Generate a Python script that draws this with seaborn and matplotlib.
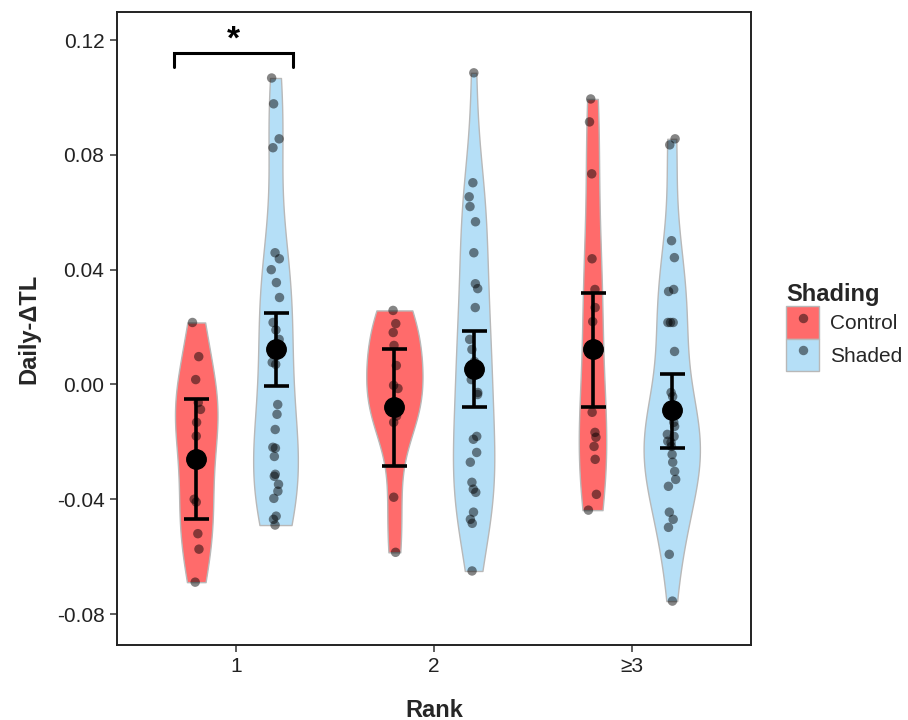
import numpy as np
import pandas as pd
import matplotlib
matplotlib.use("Agg")
import matplotlib.pyplot as plt
from matplotlib.patches import Patch
from matplotlib.lines import Line2D
import seaborn as sns

# ---------------- data ----------------
rank_labels = ["1", "2", "\u22653"]
shading_levels = ["Control", "Shaded"]

control_r1 = [0.0216, 0.0097, 0.0017, -0.0063, -0.0087, -0.0132, -0.0180,
              -0.0270, -0.0400, -0.0410, -0.0520, -0.0574, -0.0689]
shaded_r1 = [0.1068, 0.0978, 0.0856, 0.0825, 0.0459, 0.0438, 0.0400, 0.0355,
             0.0303, 0.0216, 0.0190, 0.0157, 0.0077, 0.0070, -0.0070, -0.0104,
             -0.0157, -0.0219, -0.0222, -0.0251, -0.0313, -0.0320, -0.0348,
             -0.0372, -0.0397, -0.0459, -0.0470, -0.0490]
control_r2 = [0.0258, 0.0212, 0.0181, 0.0136, 0.0066, -0.0003, -0.0014,
              -0.0090, -0.0110, -0.0132, -0.0393, -0.0585]
shaded_r2 = [0.1086, 0.0703, 0.0654, 0.0620, 0.0567, 0.0459, 0.0351, 0.0334,
             0.0268, 0.0157, 0.0122, 0.0080, 0.0017, -0.0028, -0.0035, -0.0181,
             -0.0191, -0.0237, -0.0271, -0.0341, -0.0365, -0.0376, -0.0445,
             -0.0470, -0.0484, -0.0650]
control_r3 = [0.0995, 0.0915, 0.0734, 0.0438, 0.0331, 0.0268, 0.0219,
              -0.0097, -0.0167, -0.0184, -0.0216, -0.0261, -0.0383, -0.0438]
shaded_r3 = [0.0856, 0.0835, 0.0501, 0.0442, 0.0331, 0.0324, 0.0216, 0.0216,
             0.0216, 0.0115, -0.0028, -0.0042, -0.0132, -0.0146, -0.0181,
             -0.0174, -0.0202, -0.0216, -0.0198, -0.0244, -0.0271, -0.0303,
             -0.0331, -0.0355, -0.0445, -0.0470, -0.0498, -0.0592, -0.0755]

# group summaries (mean and confidence limits) as drawn in the reference
control_mean = [-0.0260, -0.0080, 0.0122]
control_low = [-0.0470, -0.0285, -0.0077]
control_high = [-0.0050, 0.0122, 0.0320]
shaded_mean = [0.0122, 0.0055, -0.0090]
shaded_low = [-0.0007, -0.0080, -0.0220]
shaded_high = [0.0250, 0.0188, 0.0035]

y_ticks = [-0.08, -0.04, 0.00, 0.04, 0.08, 0.12]
y_tick_labels = ["-0.08", "-0.04", "0.00", "0.04", "0.08", "0.12"]

# significance annotation (rank "1": Control vs Shaded)
sig_label = "*"
sig_bracket_y = [0.1106, 0.1155]

# ---------------- build long table ----------------
groups = {
    ("1", "Control"): control_r1, ("1", "Shaded"): shaded_r1,
    ("2", "Control"): control_r2, ("2", "Shaded"): shaded_r2,
    ("\u22653", "Control"): control_r3, ("\u22653", "Shaded"): shaded_r3,
}
rows = []
for (rk, sh), vals in groups.items():
    for v in vals:
        rows.append({"Rank": rk, "Shading": sh, "dTL": v})
df = pd.DataFrame(rows)

# ---------------- style ----------------
sns.set_theme(style="white")
plt.rcParams["font.family"] = ["Liberation Sans", "DejaVu Sans"]
plt.rcParams["axes.unicode_minus"] = False

fill_colors = {"Control": "#FF6B6B", "Shaded": "#B5DFF7"}

fig = plt.figure(figsize=(9.08, 7.2), dpi=100)
ax = fig.add_axes([117 / 908, 1 - 645 / 720, (751 - 117) / 908, (645 - 12) / 720])

sns.violinplot(data=df, x="Rank", y="dTL", hue="Shading", order=rank_labels,
               hue_order=shading_levels, palette=fill_colors, saturation=1,
               density_norm="area", cut=0, inner=None, bw_adjust=0.85,
               width=0.8, gap=0.29, linewidth=1.0, linecolor="#b8b8b8",
               legend=False, ax=ax)

np.random.seed(7)
sns.stripplot(data=df, x="Rank", y="dTL", hue="Shading", order=rank_labels,
              hue_order=shading_levels, palette=["black", "black"], dodge=True,
              jitter=0.045, size=6.8, alpha=0.48, linewidth=0, legend=False,
              zorder=3, ax=ax)

# mean +/- CI
offsets = {"Control": -0.2, "Shaded": 0.2}
summ = {"Control": (control_mean, control_low, control_high),
        "Shaded": (shaded_mean, shaded_low, shaded_high)}
for sh in shading_levels:
    m, lo, hi = (np.array(a) for a in summ[sh])
    xs = np.arange(len(rank_labels)) + offsets[sh]
    ax.errorbar(xs, m, yerr=[m - lo, hi - m], fmt="o", color="black",
                ms=14, capsize=9, elinewidth=2.6, capthick=2.6, zorder=6)

# significance bracket over rank "1"
x0 = rank_labels.index("1")
bx_left, bx_right = x0 - 0.31, x0 + 0.29
ax.plot([bx_left, bx_left, bx_right, bx_right],
        [sig_bracket_y[0], sig_bracket_y[1], sig_bracket_y[1], sig_bracket_y[0]],
        color="black", lw=2.2, solid_joinstyle="miter", zorder=6)
ax.text(x0 - 0.01, 0.1200, sig_label, ha="center", va="center", fontsize=24,
        fontweight="bold", color="black")

ax.set_xlim(-0.6, 2.6)
ax.set_ylim(-0.0908, 0.1298)
ax.set_yticks(y_ticks)
ax.set_yticklabels(y_tick_labels)
ax.set_xticks(range(len(rank_labels)))
ax.set_xticklabels(rank_labels)

ax.tick_params(axis="both", direction="out", length=5, width=1.1,
               color="#333333", labelsize=15, labelcolor="#222222", pad=4)
ax.tick_params(left=True, bottom=True)
for s in ax.spines.values():
    s.set_visible(True)
    s.set_color("#222222")
    s.set_linewidth(1.4)

ax.set_xlabel("Rank", fontsize=17, fontweight="bold", labelpad=16)
ax.set_ylabel("Daily-\u0394TL", fontsize=17, fontweight="bold", labelpad=12)

# legend
handles = []
for sh in shading_levels:
    patch = Patch(facecolor=fill_colors[sh], edgecolor="#b8b8b8", linewidth=1.0)
    dot = Line2D([], [], marker="o", linestyle="none", color="black",
                 alpha=0.48, markersize=6.8, markeredgewidth=0)
    handles.append((patch, dot))
leg = fig.legend(handles, shading_levels, title="Shading", loc="center left",
                 bbox_to_anchor=(776 / 908, 1 - 327 / 720), frameon=False,
                 fontsize=15, title_fontproperties={"weight": "bold", "size": 17},
                 handlelength=1.55, handleheight=2.0, labelspacing=0.02,
                 handletextpad=0.55, borderpad=0, alignment="left")

fig.savefig("out.png", dpi=100)
